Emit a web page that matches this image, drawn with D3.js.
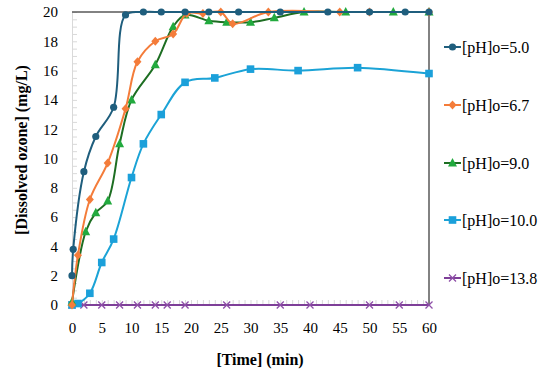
<!DOCTYPE html>
<html><head><meta charset="utf-8">
<script src="https://cdn.jsdelivr.net/npm/d3@7"></script>
<style>body{margin:0;background:#fff}svg{display:block}</style>
</head><body><svg id="c" width="550" height="370"></svg>
<script>
// ---- data ----
const t50 = [0, 0.2, 2, 4, 7, 9, 12, 15, 19, 23, 28, 35, 43, 50, 56, 60];
const v50 = [2.0, 3.8, 9.1, 11.5, 13.5, 19.8, 20, 20, 20, 20, 20, 20, 20, 20, 20, 20];
const t67 = [0, 1, 3, 6, 9, 11, 14, 17, 19.3, 22, 25, 27, 33, 45, 50, 60];
const v67 = [0, 3.4, 7.2, 9.7, 13.4, 16.6, 18.0, 18.5, 19.9, 19.9, 20, 19.2, 20, 20, 20, 20];
const t90 = [0, 2.3, 4, 6, 8, 10, 14, 17, 19, 23, 26, 30, 34, 39, 46, 54, 60];
const v90 = [0.2, 5.0, 6.3, 7.1, 11.0, 14.0, 16.4, 19.0, 19.8, 19.4, 19.3, 19.3, 19.6, 20, 20, 20, 20];
const t100 = [0, 1, 3, 5, 7, 10, 12, 15, 19, 24, 30, 38, 48, 60];
const v100 = [0, 0.1, 0.8, 2.9, 4.5, 8.7, 11.0, 13.0, 15.2, 15.5, 16.1, 16.0, 16.2, 15.8];
const t138 = [0, 2, 5, 8, 11, 14, 16, 19, 26, 35, 40, 50, 55, 60];
const v138 = [0, 0, 0, 0, 0, 0, 0, 0, 0, 0, 0, 0, 0, 0];
const seriesNames = ["[pH]o=5.0", "[pH]o=6.7", "[pH]o=9.0", "[pH]o=10.0", "[pH]o=13.8"];
const xTicks = [0, 5, 10, 15, 20, 25, 30, 35, 40, 45, 50, 55, 60];
const yTicks = [0, 2, 4, 6, 8, 10, 12, 14, 16, 18, 20];
const xTitle = "[Time] (min)";
const yTitle = "[Dissolved ozone] (mg/L)";

// ---- styles ----
const FONT = '"Liberation Serif"';
const styles = [
  {line: "#1F5E7D", fill: "#1F5E7D", shape: "circle"},
  {line: "#F47C3A", fill: "#F47C3A", shape: "diamond"},
  {line: "#1D6E22", fill: "#22AA3E", shape: "triangle"},
  {line: "#1BA3D6", fill: "#1BA0DA", shape: "square"},
  {line: "#7E3F98", fill: "#8E4FA8", shape: "x"}
];
const series = [[t50, v50], [t67, v67], [t90, v90], [t100, v100], [t138, v138]]
  .map(([t, v], i) => ({name: seriesNames[i], pts: t.map((d, j) => [d, v[j]]), ...styles[i]}));

const svg = d3.select("#c");
const L = 72, R = 429, T = 12, B = 305;
const x = d3.scaleLinear().domain([0, 60]).range([L, R]);
const y = d3.scaleLinear().domain([0, 20]).range([B, T]);

// minor ticks
const gx = svg.append("g").attr("transform", `translate(0,${B})`)
  .call(d3.axisBottom(x).tickValues(d3.range(0, 61, 1)).tickSize(-5).tickFormat(""));
gx.selectAll("line").attr("stroke", "#D9D9D9");
gx.select(".domain").attr("stroke", "#D9D9D9");
const gy = svg.append("g").attr("transform", `translate(${L},0)`)
  .call(d3.axisLeft(y).tickValues(d3.range(0, 20.01, 0.5)).tickSize(-5).tickFormat(""));
gy.selectAll("line").attr("stroke", "#D9D9D9");
gy.select(".domain").attr("stroke", "#D9D9D9");

// labels
const gxl = svg.append("g").attr("transform", `translate(0,${B})`)
  .call(d3.axisBottom(x).tickValues(xTicks).tickSize(0).tickPadding(17).tickFormat(d3.format("d")));
gxl.select(".domain").remove();
gxl.selectAll("text").style("font-family", FONT).style("font-size", "15px").attr("fill", "#000");
const gyl = svg.append("g").attr("transform", `translate(${L},0)`)
  .call(d3.axisLeft(y).tickValues(yTicks).tickSize(0).tickPadding(14).tickFormat(d3.format("d")));
gyl.select(".domain").remove();
gyl.selectAll("text").style("font-family", FONT).style("font-size", "15px").attr("fill", "#000");

// top & right border
svg.append("line").attr("x1", L).attr("x2", R).attr("y1", T).attr("y2", T).attr("stroke", "#595959").attr("stroke-width", 1.5);
svg.append("line").attr("x1", R).attr("x2", R).attr("y1", T).attr("y2", B).attr("stroke", "#595959").attr("stroke-width", 1.5);

// titles
svg.append("text").attr("x", 260).attr("y", 365).attr("text-anchor", "middle")
  .style("font-family", FONT).style("font-size", "16px").style("font-weight", "bold").text(xTitle);
svg.append("text").attr("transform", "translate(27,150) rotate(-90)").attr("text-anchor", "middle")
  .style("font-family", FONT).style("font-size", "16px").style("font-weight", "bold").text(yTitle);

const line = d3.line().x(d => x(d[0])).y(d => y(d[1])).curve(d3.curveCatmullRom.alpha(0.5));

function marker(g, shape, cx, cy, s) {
  if (shape === "circle") g.append("circle").attr("cx", cx).attr("cy", cy).attr("r", 3.6).attr("fill", s.fill);
  else if (shape === "diamond") g.append("path").attr("d", `M${cx},${cy-4.5}L${cx+4},${cy}L${cx},${cy+4.5}L${cx-4},${cy}Z`).attr("fill", s.fill);
  else if (shape === "triangle") g.append("path").attr("d", `M${cx},${cy-5}L${cx+4.5},${cy+3.5}L${cx-4.5},${cy+3.5}Z`).attr("fill", s.fill);
  else if (shape === "square") g.append("rect").attr("x", cx-3.8).attr("y", cy-3.8).attr("width", 7.6).attr("height", 7.6).attr("fill", s.fill);
  else if (shape === "x") g.append("path").attr("d", `M${cx-3.5},${cy-3.5}L${cx+3.5},${cy+3.5}M${cx-3.5},${cy+3.5}L${cx+3.5},${cy-3.5}`).attr("stroke", s.fill).attr("stroke-width", 1.3);
}

// draw series in reverse so pH5 on top
series.slice().reverse().forEach(s => {
  const g = svg.append("g");
  g.append("path").datum(s.pts).attr("d", line).attr("fill", "none").attr("stroke", s.line).attr("stroke-width", 2);
  s.pts.forEach(p => marker(g, s.shape, x(p[0]), y(p[1]), s));
});

// legend
const legY = [47, 105, 163, 220, 278];
series.forEach((s, i) => {
  const g = svg.append("g");
  g.append("line").attr("x1", 444).attr("x2", 461).attr("y1", legY[i]).attr("y2", legY[i]).attr("stroke", s.line).attr("stroke-width", 2);
  marker(g, s.shape, 452.5, legY[i], s);
  g.append("text").attr("x", 462).attr("y", legY[i]).attr("dy", "0.35em")
    .style("font-family", FONT).style("font-size", "16px").text(s.name);
});
</script></body></html>
